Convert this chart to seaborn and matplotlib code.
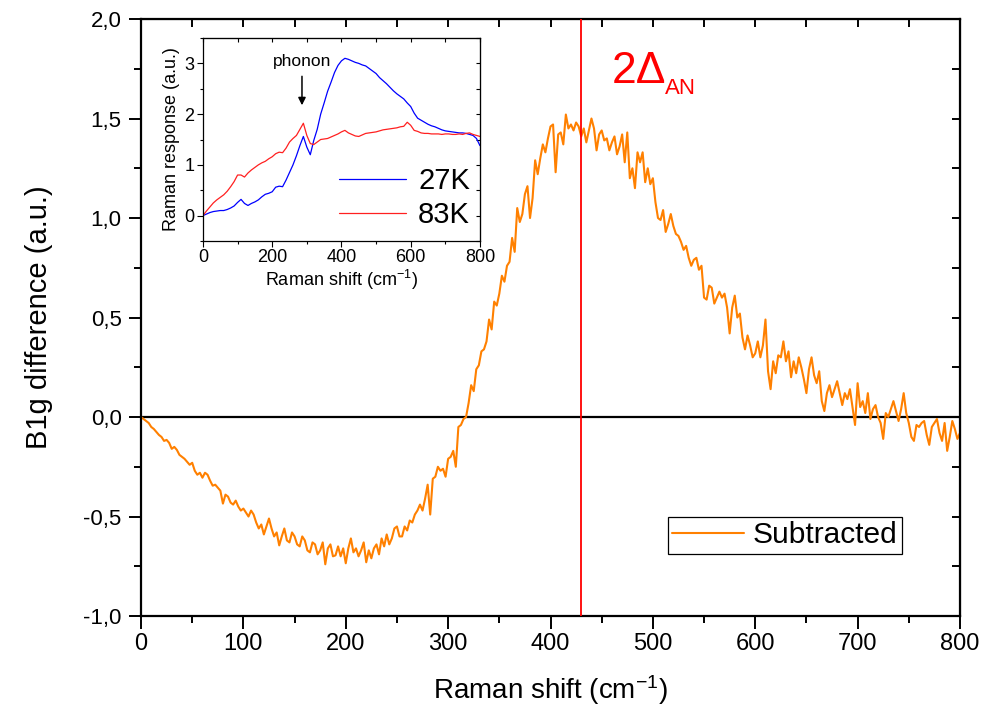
import matplotlib
matplotlib.use('Agg')
import matplotlib.pyplot as plt
import seaborn as sns
import numpy as np
from matplotlib.ticker import MultipleLocator

# Main curve: B1g difference (27K - 83K), every 2.5 cm-1
shift = np.arange(0, 800.1, 2.5)
subtracted = [
    0.00, -0.01, -0.02, -0.03, -0.05, -0.06, -0.075, -0.09, -0.10, -0.12,
    -0.115, -0.13, -0.16, -0.15, -0.165, -0.19, -0.20, -0.21, -0.225, -0.24,
    -0.23, -0.27, -0.29, -0.28, -0.305, -0.28, -0.29, -0.32, -0.345, -0.34,
    -0.355, -0.37, -0.435, -0.39, -0.40, -0.43, -0.44, -0.42, -0.45, -0.47,
    -0.46, -0.48, -0.50, -0.47, -0.49, -0.53, -0.56, -0.54, -0.59, -0.55,
    -0.51, -0.56, -0.60, -0.58, -0.645, -0.60, -0.56, -0.62, -0.63, -0.58,
    -0.60, -0.64, -0.65, -0.60, -0.62, -0.67, -0.68, -0.63, -0.64, -0.69,
    -0.67, -0.63, -0.74, -0.66, -0.64, -0.70, -0.695, -0.65, -0.70, -0.66,
    -0.735, -0.66, -0.61, -0.68, -0.66, -0.70, -0.67, -0.63, -0.73, -0.67,
    -0.71, -0.66, -0.64, -0.69, -0.61, -0.65, -0.59, -0.64, -0.61, -0.56,
    -0.55, -0.60, -0.60, -0.55, -0.57, -0.52, -0.53, -0.49, -0.47, -0.44,
    -0.47, -0.41, -0.34, -0.49, -0.31, -0.30, -0.25, -0.27, -0.26, -0.30,
    -0.21, -0.20, -0.17, -0.25, -0.05, -0.04, -0.01, 0.00, 0.07, 0.16,
    0.13, 0.24, 0.26, 0.33, 0.34, 0.38, 0.49, 0.44, 0.58, 0.56,
    0.62, 0.71, 0.68, 0.76, 0.78, 0.90, 0.83, 1.05, 0.98, 1.02,
    1.12, 1.16, 1.00, 1.10, 1.29, 1.22, 1.30, 1.37, 1.33, 1.40,
    1.46, 1.47, 1.23, 1.42, 1.43, 1.37, 1.52, 1.45, 1.47, 1.44,
    1.48, 1.46, 1.41, 1.45, 1.38, 1.44, 1.50, 1.45, 1.34, 1.42,
    1.44, 1.39, 1.40, 1.34, 1.38, 1.41, 1.32, 1.36, 1.42, 1.28,
    1.43, 1.20, 1.25, 1.15, 1.33, 1.28, 1.33, 1.18, 1.25, 1.17,
    1.20, 1.08, 1.00, 0.99, 1.04, 0.93, 0.97, 1.02, 0.96, 0.92,
    0.91, 0.88, 0.84, 0.86, 0.80, 0.76, 0.79, 0.80, 0.74, 0.76,
    0.60, 0.59, 0.66, 0.65, 0.57, 0.60, 0.63, 0.60, 0.62, 0.55,
    0.42, 0.55, 0.61, 0.50, 0.52, 0.40, 0.34, 0.41, 0.36, 0.30,
    0.32, 0.38, 0.30, 0.36, 0.49, 0.23, 0.14, 0.28, 0.22, 0.31,
    0.30, 0.38, 0.28, 0.33, 0.20, 0.28, 0.22, 0.30, 0.25, 0.19,
    0.12, 0.24, 0.30, 0.21, 0.17, 0.23, 0.08, 0.03, 0.12, 0.16,
    0.10, 0.14, 0.18, 0.12, 0.06, 0.12, 0.09, 0.14, 0.05, -0.04,
    0.17, 0.05, 0.08, 0.02, 0.12, -0.01, 0.04, 0.06, 0.00, -0.03,
    -0.11, 0.02, 0.00, 0.04, 0.08, 0.03, -0.02, 0.04, 0.12, 0.02,
    -0.03, -0.10, -0.12, -0.04, -0.05, -0.03, -0.02, -0.09, -0.14, -0.05,
    -0.03, -0.01, -0.08, -0.12, -0.03, -0.17, -0.10, -0.02, -0.06, -0.11,
    -0.08,
]

# Inset: Raman response at the two temperatures, every 10 cm-1
inset_shift = list(range(0, 810, 10))
resp_27k = [
    0.00, 0.03, 0.06, 0.08, 0.09, 0.10, 0.10, 0.12, 0.15, 0.19,
    0.26, 0.32, 0.24, 0.20, 0.24, 0.27, 0.31, 0.37, 0.42, 0.44,
    0.47, 0.56, 0.58, 0.57, 0.70, 0.85, 1.00, 1.18, 1.38, 1.56,
    1.35, 1.20, 1.48, 1.70, 2.00, 2.22, 2.45, 2.63, 2.82, 2.96,
    3.05, 3.10, 3.08, 3.05, 3.02, 3.00, 2.97, 2.95, 2.90, 2.85,
    2.80, 2.72, 2.66, 2.60, 2.53, 2.46, 2.40, 2.35, 2.30, 2.22,
    2.15, 2.02, 1.92, 1.88, 1.84, 1.80, 1.77, 1.75, 1.72, 1.69,
    1.67, 1.66, 1.65, 1.64, 1.63, 1.63, 1.62, 1.60, 1.58, 1.52,
    1.38,
]
resp_83k = [
    0.00, 0.09, 0.17, 0.25, 0.31, 0.36, 0.41, 0.48, 0.57, 0.67,
    0.80, 0.80, 0.76, 0.84, 0.90, 0.95, 1.00, 1.04, 1.07, 1.12,
    1.16, 1.22, 1.25, 1.24, 1.33, 1.45, 1.52, 1.58, 1.70, 1.82,
    1.58, 1.42, 1.40, 1.45, 1.50, 1.51, 1.52, 1.55, 1.58, 1.61,
    1.65, 1.68, 1.63, 1.60, 1.57, 1.56, 1.59, 1.62, 1.63, 1.64,
    1.65, 1.67, 1.69, 1.70, 1.71, 1.72, 1.73, 1.75, 1.76, 1.84,
    1.78, 1.68, 1.66, 1.63, 1.62, 1.62, 1.61, 1.61, 1.61, 1.60,
    1.61, 1.61, 1.60, 1.60, 1.61, 1.60, 1.62, 1.63, 1.60, 1.58,
    1.56,
]

gap_position = 430
x_ticks = list(range(0, 900, 100))
y_ticks = [-1.0, -0.5, 0.0, 0.5, 1.0, 1.5, 2.0]
y_tick_labels = ['-1,0', '-0,5', '0,0', '0,5', '1,0', '1,5', '2,0']
inset_x_ticks = [0, 200, 400, 600, 800]
inset_y_ticks = [0, 1, 2, 3]

sns.set_style('ticks')
plt.rcParams['font.family'] = ['Liberation Sans', 'DejaVu Sans']
plt.rcParams['mathtext.fontset'] = 'custom'
plt.rcParams['mathtext.rm'] = 'Liberation Sans'
plt.rcParams['mathtext.it'] = 'Liberation Sans'
plt.rcParams['text.color'] = 'black'
plt.rcParams['axes.labelcolor'] = 'black'
plt.rcParams['xtick.color'] = 'black'
plt.rcParams['ytick.color'] = 'black'

fig = plt.figure(figsize=(9.91, 7.2), dpi=100)
ax = fig.add_axes([0.1423, 0.1444, 0.8264, 0.8292])

ax.axhline(0, color='black', lw=1.6, zorder=1)
sns.lineplot(x=shift, y=subtracted, color='#ff8000', lw=1.5, estimator=None,
             label='Subtracted', ax=ax, zorder=2)
ax.axvline(gap_position, color='red', lw=1.3, zorder=3)

ax.set_xlim(0, 800)
ax.set_ylim(-1.0, 2.0)
ax.set_xticks(x_ticks)
ax.set_xticklabels([str(t) for t in x_ticks], fontsize=17)
ax.set_yticks(y_ticks)
ax.set_yticklabels(y_tick_labels, fontsize=16)
ax.xaxis.set_minor_locator(MultipleLocator(50))
ax.yaxis.set_minor_locator(MultipleLocator(0.25))
ax.tick_params(which='major', direction='out', length=9, width=1.4)
ax.tick_params(which='minor', direction='out', length=5, width=1.4)
ax.tick_params(axis='x', pad=3)
ax.tick_params(axis='y', pad=5)
for side in ['left', 'right', 'top', 'bottom']:
    ax.spines[side].set_visible(True)
    ax.spines[side].set_linewidth(1.6)
    ax.spines[side].set_color('black')

# mirrored ticks, pointing inwards on top and right
top = ax.secondary_xaxis('top')
top.set_xticks(x_ticks)
top.xaxis.set_minor_locator(MultipleLocator(50))
top.tick_params(which='both', direction='in', labeltop=False, length=6, width=1.4)
right = ax.secondary_yaxis('right')
right.set_yticks(y_ticks)
right.yaxis.set_minor_locator(MultipleLocator(0.25))
right.tick_params(which='both', direction='in', labelright=False, length=6, width=1.4)

ax.set_xlabel('Raman shift (cm$^{-1}$)', fontsize=20, labelpad=13)
ax.set_ylabel('B1g difference (a.u.)', fontsize=21, labelpad=22)

leg = ax.legend(loc='lower right', bbox_to_anchor=(0.929, 0.104), fontsize=21.5,
                frameon=True, fancybox=False, edgecolor='black', framealpha=1,
                borderpad=0.15, handlelength=2.4, handletextpad=0.3, borderaxespad=0)
leg.get_frame().set_linewidth(0.9)

fig.text(612 / 991, 1 - 83 / 720, '2Δ', color='red', fontsize=32, ha='left', va='baseline')
fig.text(665 / 991, 1 - 94 / 720, 'AN', color='red', fontsize=16, ha='left', va='baseline')

# inset
ins = fig.add_axes([0.2048, 0.6653, 0.2795, 0.2819])
sns.lineplot(x=inset_shift, y=resp_27k, color='#0000ff', lw=0.9, estimator=None,
             label='27K', ax=ins)
sns.lineplot(x=inset_shift, y=resp_83k, color='#ff2020', lw=0.9, estimator=None,
             label='83K', ax=ins)
ins.set_xlim(0, 800)
ins.set_ylim(-0.5, 3.5)
ins.set_xticks(inset_x_ticks)
ins.set_yticks(inset_y_ticks)
ins.xaxis.set_minor_locator(MultipleLocator(100))
ins.yaxis.set_minor_locator(MultipleLocator(0.5))
ins.tick_params(labelsize=13, which='major', direction='out', length=4, width=0.8, pad=2)
ins.tick_params(which='minor', direction='out', length=2.5, width=0.8)
for side in ['left', 'right', 'top', 'bottom']:
    ins.spines[side].set_visible(True)
    ins.spines[side].set_linewidth(0.9)
    ins.spines[side].set_color('black')
ins_top = ins.secondary_xaxis('top')
ins_top.set_xticks(inset_x_ticks)
ins_top.xaxis.set_minor_locator(MultipleLocator(100))
ins_top.tick_params(which='both', direction='in', labeltop=False, length=3, width=0.8)
ins_right = ins.secondary_yaxis('right')
ins_right.set_yticks(inset_y_ticks)
ins_right.yaxis.set_minor_locator(MultipleLocator(0.5))
ins_right.tick_params(which='both', direction='in', labelright=False, length=3, width=0.8)
ins.set_xlabel('Raman shift (cm$^{-1}$)', fontsize=13, labelpad=1)
ins.set_ylabel('Raman response (a.u.)', fontsize=13, labelpad=3)
ins.annotate('', xy=(286, 2.12), xytext=(286, 2.8),
             arrowprops=dict(arrowstyle='-|>', color='black', lw=1.1, mutation_scale=11))
ins.text(287, 2.95, 'phonon', ha='center', va='baseline', fontsize=12.5)
ins.legend(loc='lower right', bbox_to_anchor=(0.964, 0.06), fontsize=21, frameon=False,
           borderpad=0, borderaxespad=0, handlelength=2.3, handletextpad=0.4,
           labelspacing=0.2)

fig.savefig('out.png', dpi=100, facecolor='white')
